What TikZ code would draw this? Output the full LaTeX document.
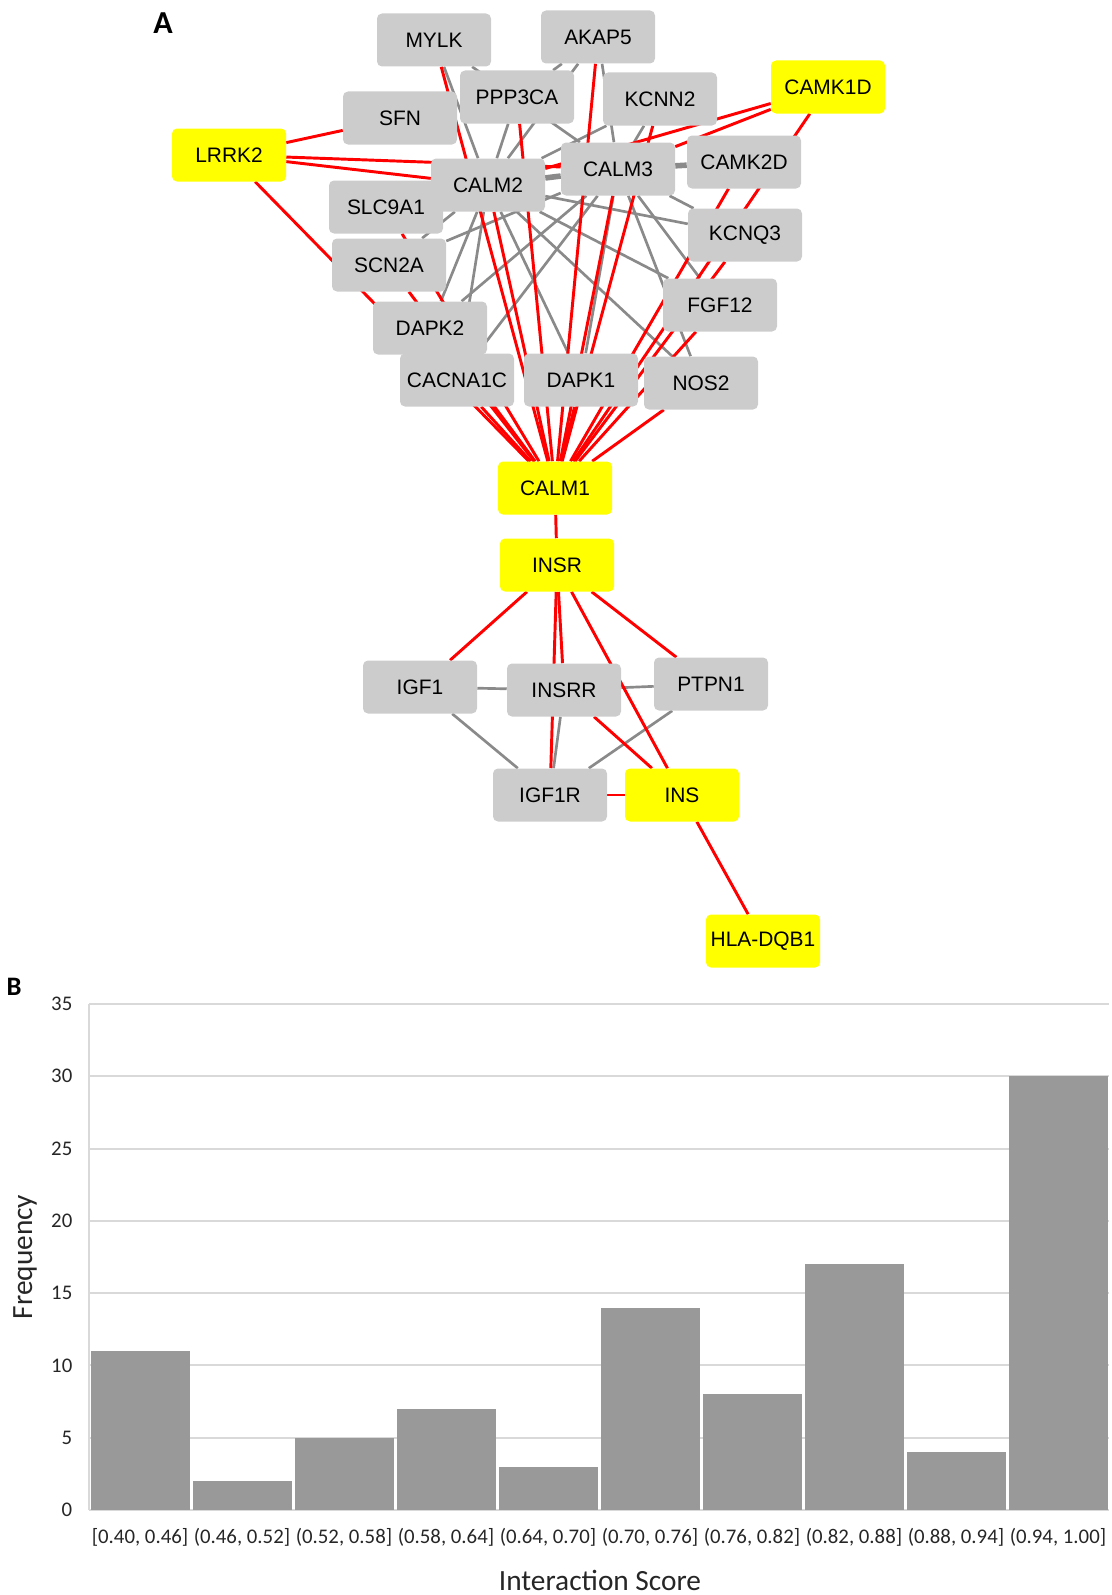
\documentclass[tikz,border=0pt]{standalone}
\usepackage{fontspec}
\setmainfont{Liberation Sans}
\newfontfamily\chartfont{Carlito}
\usetikzlibrary{backgrounds}
\definecolor{nodegray}{HTML}{CCCCCC}
\definecolor{edgegray}{HTML}{8A8A8A}
\definecolor{seedyellow}{HTML}{FFFF00}
\definecolor{bargray}{HTML}{999999}
\definecolor{gridgray}{HTML}{D9D9D9}
\tikzset{
  gene/.style={rectangle, fill=nodegray, rounded corners=3.75pt,
               minimum width=85.5pt, minimum height=39.75pt,
               inner sep=0pt, font=\fontsize{15.7}{18}\selectfont},
  seed/.style={gene, fill=seedyellow},
  link/.style={line width=2pt, edgegray},
  strong/.style={line width=4.2pt, edgegray},
  hit/.style={line width=2.2pt, red},
  gridline/.style={gridgray, line width=1.5pt},
  ticklabel/.style={font=\chartfont\fontsize{15.6}{18}\selectfont, text=black!85},
  axistitle/.style={font=\chartfont\fontsize{22}{26}\selectfont, text=black!85},
  panel/.style={font=\chartfont\bfseries\fontsize{24}{26}\selectfont},
}

\begin{document}
\begin{tikzpicture}[x=0.75pt, y=-0.75pt]
  \useasboundingbox (0,0) rectangle (1112,1595);
  % panel A: interaction network
  \node[panel] (labelA) at (163,23) {A};
  \node[gene] (MYLK)    at (434,40)  {MYLK};
  \node[gene] (AKAP5)   at (598,37)  {AKAP5};
  \node[gene] (PPP3CA)  at (517,97)  {PPP3CA};
  \node[gene] (KCNN2)   at (660,99)  {KCNN2};
  \node[seed] (CAMK1D)  at (828,87)  {CAMK1D};
  \node[gene] (SFN)     at (400,118) {SFN};
  \node[seed] (LRRK2)   at (229,155) {LRRK2};
  \node[gene] (SLC9A1)  at (386,207) {SLC9A1};
  \node[gene] (CALM2)   at (488,185) {CALM2};
  \node[gene] (CALM3)   at (618,169) {CALM3};
  \node[gene] (CAMK2D)  at (744,162) {CAMK2D};
  \node[gene] (KCNQ3)   at (745,235) {KCNQ3};
  \node[gene] (SCN2A)   at (389,265) {SCN2A};
  \node[gene] (FGF12)   at (720,305) {FGF12};
  \node[gene] (DAPK2)   at (430,328) {DAPK2};
  \node[gene] (CACNA1C) at (457,380) {CACNA1C};
  \node[gene] (DAPK1)   at (581,380) {DAPK1};
  \node[gene] (NOS2)    at (701,383) {NOS2};
  \node[seed] (CALM1)   at (555,488) {CALM1};
  \node[seed] (INSR)    at (557,565) {INSR};
  \node[gene] (IGF1)    at (420,687) {IGF1};
  \node[gene] (INSRR)   at (564,690) {INSRR};
  \node[gene] (PTPN1)   at (711,684) {PTPN1};
  \node[gene] (IGF1R)   at (550,795) {IGF1R};
  \node[seed] (INS)     at (682,795) {INS};
  \node[seed] (HLADQB1) at (763,941) {HLA-DQB1};
  \begin{scope}[on background layer]
    \foreach \a/\b in {MYLK/CALM2, MYLK/CALM3, AKAP5/CALM2, AKAP5/PPP3CA,
        AKAP5/CALM3, PPP3CA/CALM2, KCNN2/CALM2, KCNN2/CALM3,
        CALM3/KCNQ3, CALM2/KCNQ3, CALM3/FGF12, CALM2/FGF12,
        CALM3/NOS2, CALM2/NOS2, CALM2/DAPK1, CALM3/DAPK1,
        CALM3/CACNA1C, CALM2/CACNA1C, CALM3/DAPK2, CALM2/DAPK2,
        CALM3/SCN2A, CALM2/SCN2A,
        IGF1/INSRR, INSRR/PTPN1, IGF1/IGF1R, PTPN1/IGF1R, INSRR/IGF1R}
      \draw[link] (\a) -- (\b);
    \foreach \a/\b in {CALM2/CALM3, CALM3/CAMK2D}
      \draw[strong] (\a) -- (\b);
    \foreach \a in {MYLK, AKAP5, PPP3CA, KCNN2, CAMK1D, CALM2, CALM3,
        CAMK2D, KCNQ3, FGF12, NOS2, DAPK1, CACNA1C, DAPK2, SCN2A,
        SLC9A1, LRRK2}
      \draw[hit] (\a) -- (CALM1);
    \foreach \a/\b in {LRRK2/SFN, LRRK2/CALM2, LRRK2/CALM3,
        CAMK1D/CALM2, CAMK1D/CALM3, CALM1/INSR,
        INSR/IGF1, INSR/INSRR, INSR/IGF1R, INSR/INS, INSR/PTPN1,
        INSRR/INS, IGF1R/INS, INS/HLADQB1}
      \draw[hit] (\a) -- (\b);
  \end{scope}
  % panel B: histogram of interaction scores
  \node[panel, font=\chartfont\bfseries\fontsize{20}{22}\selectfont] (labelB) at (14,987) {B};
  \foreach \v in {0,5,...,35} {
    \pgfmathsetmacro\yv{1510-14.457*\v}
    \draw[gridline] (89,\yv) -- (1109,\yv);
    \node[ticklabel, anchor=east] (ytick\v) at (77,\yv) {\v};
  }
  \draw[gridline] (89,1004) -- (89,1510);
  \foreach \i/\h/\lab in {0/11/{[0.40, 0.46]}, 1/2/{(0.46, 0.52]},
      2/5/{(0.52, 0.58]}, 3/7/{(0.58, 0.64]}, 4/3/{(0.64, 0.70]},
      5/14/{(0.70, 0.76]}, 6/8/{(0.76, 0.82]}, 7/17/{(0.82, 0.88]},
      8/4/{(0.88, 0.94]}, 9/30/{(0.94, 1.00]}} {
    \pgfmathsetmacro\xl{89+102*\i+1.5}
    \pgfmathsetmacro\xr{89+102*(\i+1)-1.5}
    \pgfmathsetmacro\xm{89+102*(\i+0.5)}
    \pgfmathsetmacro\yt{1510-14.457*\h}
    \fill[bargray] (\xl,1510) rectangle (\xr,\yt);
    \node[ticklabel] (bin\i) at (\xm,1537) {\lab};
  }
  \node[axistitle] (xtitle) at (600,1580) {Interaction Score};
  \node[axistitle, rotate=90] (ytitle) at (25,1257) {Frequency};
\end{tikzpicture}
\end{document}
